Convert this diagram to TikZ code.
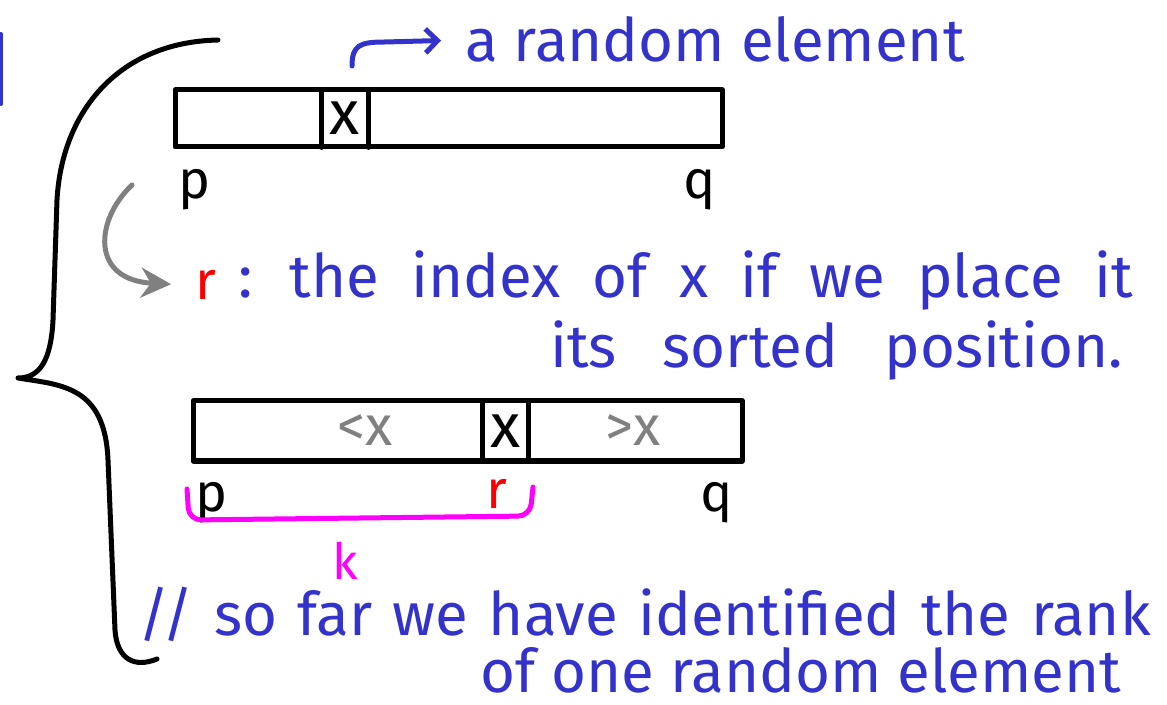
\documentclass[tikz,border=0pt]{standalone}
\usepackage{fontspec}
\setmainfont{Fira Sans}
\usetikzlibrary{arrows.meta}
\definecolor{penblue}{RGB}{51,51,204}
\definecolor{pengray}{RGB}{128,128,128}
\definecolor{penred}{RGB}{250,0,0}
\definecolor{penmag}{RGB}{255,0,255}
\newcommand{\widerspaces}[1]{\spaceskip=\dimexpr\fontdimen2\font+#1\relax}
\begin{document}
\begin{tikzpicture}[x=0.5pt,y=-0.5pt,line cap=round,line join=round,
  hand/.style={font=\fontsize{30}{36}\selectfont,text=penblue,inner sep=0pt},
  ink/.style={draw=black,line width=2.5pt},
  arraybox/.style={draw=black,line width=2.5pt,inner sep=0pt},
  cellbox/.style={inner sep=0pt,minimum width=23pt,font=\fontsize{31}{36}\selectfont},
  lab/.style={inner sep=0pt,font=\fontsize{27}{32}\selectfont},
  grayx/.style={inner sep=0pt,text=pengray,font=\fontsize{28}{32}\selectfont},
  bluearrow/.style={draw=penblue,line width=2.5pt,-{Straight Barb[length=6pt,width=12pt,line width=2.5pt]}},
  grayarrow/.style={draw=pengray,line width=2.5pt,-{Stealth[length=15pt,width=15pt]}},
  magpen/.style={draw=penmag,line width=2.5pt,rounded corners=6pt}]
\useasboundingbox (0,0) rectangle (1167,705);
% blue mark at the left edge
\draw[penblue,line width=2pt] (1,34) -- (1,104);
% brace
\draw[ink] (218,40) .. controls (120,42) and (62,110) .. (57,200)
  -- (53,320) .. controls (51,360) and (40,378) .. (18,378)
  .. controls (60,385) and (105,385) .. (108,460)
  -- (115,630) .. controls (117,660) and (135,668) .. (157,659);
% top array
\node[arraybox,minimum width=273.5pt,minimum height=28.5pt] (A1) at (448.5,118.5) {};
\node[cellbox,minimum height=28.5pt] (X1) at (345,118.5) {x};
\draw[ink] (X1.north west) -- (X1.south west) (X1.north east) -- (X1.south east);
\node[lab] (P1) at (195,190) {p};
\node[lab] (Q1) at (700,190) {q};
% a random element
\node[hand,anchor=base west] (T1) at (465,62) {a random element};
\coordinate (A0) at (352,66);
\draw[bluearrow,shorten >=12pt] (A0) .. controls (352,45) and (360,42) .. (385,42) -- (T1.west);
% r : the index ...
\node[lab,text=penred,anchor=base west] (R1) at (195,300) {r};
\node[hand,anchor=base west] (T2) at (238,298) {\widerspaces{8pt}: the index of x if we place it};
\node[hand,anchor=base west] (T3) at (550,368) {\widerspaces{15pt}its sorted position.};
\coordinate (G0) at (132,185);
\draw[grayarrow,shorten >=12pt] (G0) .. controls (95,220) and (90,280) .. (R1.west);
% bottom array
\node[arraybox,minimum width=274.5pt,minimum height=30pt] (A2) at (467.5,431) {};
\node[cellbox,minimum height=30pt] (X2) at (505.5,431) {x};
\draw[ink] (X2.north west) -- (X2.south west) (X2.north east) -- (X2.south east);
\node[grayx] (LT) at (365,430) {<x};
\node[grayx] (GT) at (633,430) {>x};
\node[lab] (P2) at (212,503) {p};
\node[lab,text=penred] (R2) at (497,494) {r};
\node[lab] (Q2) at (717,503) {q};
% k bracket
\coordinate (M0) at (187,489);
\coordinate (M1) at (189,520);
\coordinate (M2) at (530,516);
\coordinate (M3) at (533,487);
\draw[magpen] (M0) -- (M1) -- (M2) -- (M3);
\node[inner sep=0pt,text=penmag,font=\fontsize{25}{28}\selectfont] (K) at (345,561) {k};
% bottom text
\node[hand,anchor=base west] (T4) at (138,635) {\widerspaces{2.3pt}// so far we have identified the rank};
\node[hand,anchor=base west] (T5) at (480,692) {of one random element};
\end{tikzpicture}
\end{document}
